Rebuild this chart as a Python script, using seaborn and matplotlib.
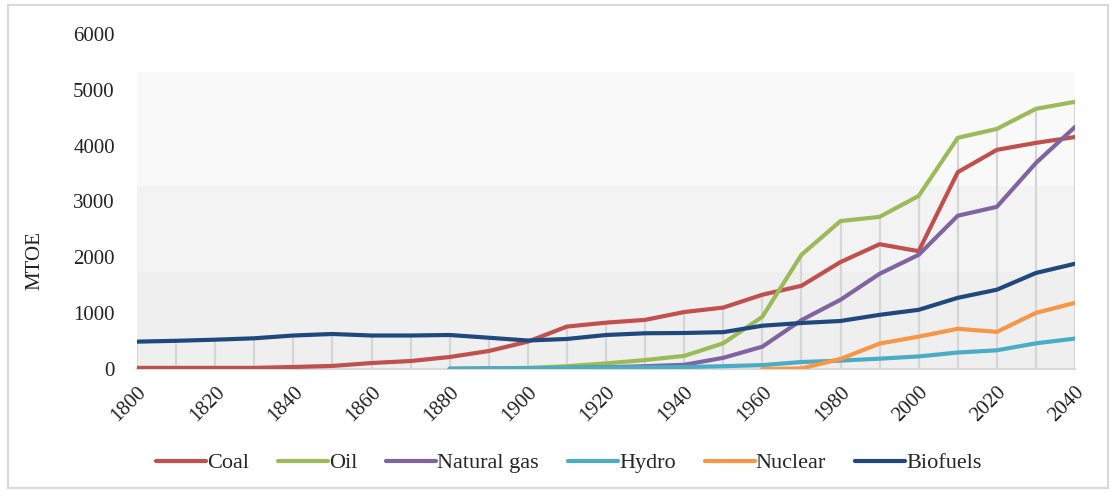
"""
Consumo mundial de energia primária por fonte (MTOE), 1800-2040
"""

import numpy as np
import pandas as pd
import matplotlib.pyplot as plt
import seaborn as sns
from matplotlib.patches import Rectangle

# Dados (intervalos de 10 anos)
years = list(range(1800, 2041, 10))
nan = np.nan

coal = [20, 20, 20, 20, 36, 55, 107, 143, 215, 322, 490, 760, 830, 880,
        1020, 1100, 1330, 1490, 1915, 2235, 2110, 3525, 3925, 4050, 4155]
oil = [nan] * 8 + [5, 10, 20, 50, 100, 160, 235, 460, 935, 2045, 2650,
                   2725, 3100, 4140, 4300, 4660, 4785]
natural_gas = [nan] * 8 + [0, 5, 10, 20, 30, 50, 75, 200, 400, 875, 1240,
                           1705, 2045, 2745, 2905, 3690, 4335]
hydro = [nan] * 8 + [5, 10, 15, 20, 25, 30, 35, 50, 70, 125, 150, 185,
                     225, 295, 335, 460, 545]
nuclear = [nan] * 16 + [0, 10, 180, 455, 580, 720, 665, 1005, 1185]
biofuels = [490, 505, 525, 550, 600, 627, 600, 600, 609, 560, 510, 538,
            609, 640, 645, 660, 775, 824, 860, 970, 1060, 1275, 1420,
            1720, 1885]

sources = ["Coal", "Oil", "Natural gas", "Hydro", "Nuclear", "Biofuels"]
series = [coal, oil, natural_gas, hydro, nuclear, biofuels]
colors = ["#C0504D", "#9BBB59", "#8064A2", "#4BACC6", "#F79646", "#1F497D"]

y_ticks = list(range(0, 6001, 1000))
x_ticks = list(range(1800, 2041, 20))

# Monta o DataFrame em formato longo
frames = [pd.DataFrame({"Ano": years, "MTOE": vals, "Fonte": name})
          for name, vals in zip(sources, series)]
df = pd.concat(frames, ignore_index=True).dropna()

sns.set_style("white")
plt.rcParams["font.family"] = ["Liberation Serif", "DejaVu Serif"]

fig = plt.figure(figsize=(11.15, 4.91), dpi=100)
ax = fig.add_axes([137 / 1115, 1 - 369 / 491, (1075 - 137) / 1115, (369 - 34) / 491])

# Fundo em faixas de cinza
ax.axhspan(0, 1740, color="#efefef", zorder=0, lw=0)
ax.axhspan(1740, 3280, color="#f3f3f3", zorder=0, lw=0)
ax.axhspan(3280, 5320, color="#f9f9f9", zorder=0, lw=0)

# Linhas de projeção até o eixo
top = df.groupby("Ano")["MTOE"].max()
ax.vlines(top.index, 0, top.values, color="#d6d6d6", lw=1.6, zorder=1)

sns.lineplot(data=df, x="Ano", y="MTOE", hue="Fonte", hue_order=sources,
             palette=dict(zip(sources, colors)), linewidth=3, ax=ax,
             zorder=3, legend=False)

ax.set_xlim(1800, 2040)
ax.set_ylim(0, 6000)
ax.set_xticks(x_ticks)
ax.set_yticks(y_ticks)
ax.set_xticklabels([str(x) for x in x_ticks], rotation=45, ha="right",
                   rotation_mode="anchor", fontsize=15)
ax.set_yticklabels([str(y) for y in y_ticks], fontsize=15)
ax.tick_params(axis="both", length=0, colors="#222222")
ax.tick_params(axis="x", pad=10)
ax.tick_params(axis="y", pad=16)
ax.set_xlabel("")
ax.set_ylabel("MTOE", fontsize=15, color="#222222")
ax.yaxis.set_label_coords(-0.099, 0.325)

for side in ["top", "right", "left"]:
    ax.spines[side].set_visible(False)
ax.spines["bottom"].set_color("#d9d9d9")
ax.spines["bottom"].set_linewidth(1.5)
ax.patch.set_alpha(0)

# Legenda abaixo do gráfico
handles = [plt.Line2D([], [], color=c, lw=3) for c in colors]
fig.legend(handles, sources, loc="center", bbox_to_anchor=(0.51, 0.057),
           ncol=6, frameon=False, fontsize=16, handlelength=2.25,
           handletextpad=0.05, columnspacing=1.3)

# Moldura externa
fig.patches.append(Rectangle((8 / 1115, 3 / 491), 1100 / 1115, 483 / 491,
                             transform=fig.transFigure, fill=False,
                             edgecolor="#d9d9d9", lw=1.5))

fig.savefig("out.png", dpi=100)
plt.close(fig)
